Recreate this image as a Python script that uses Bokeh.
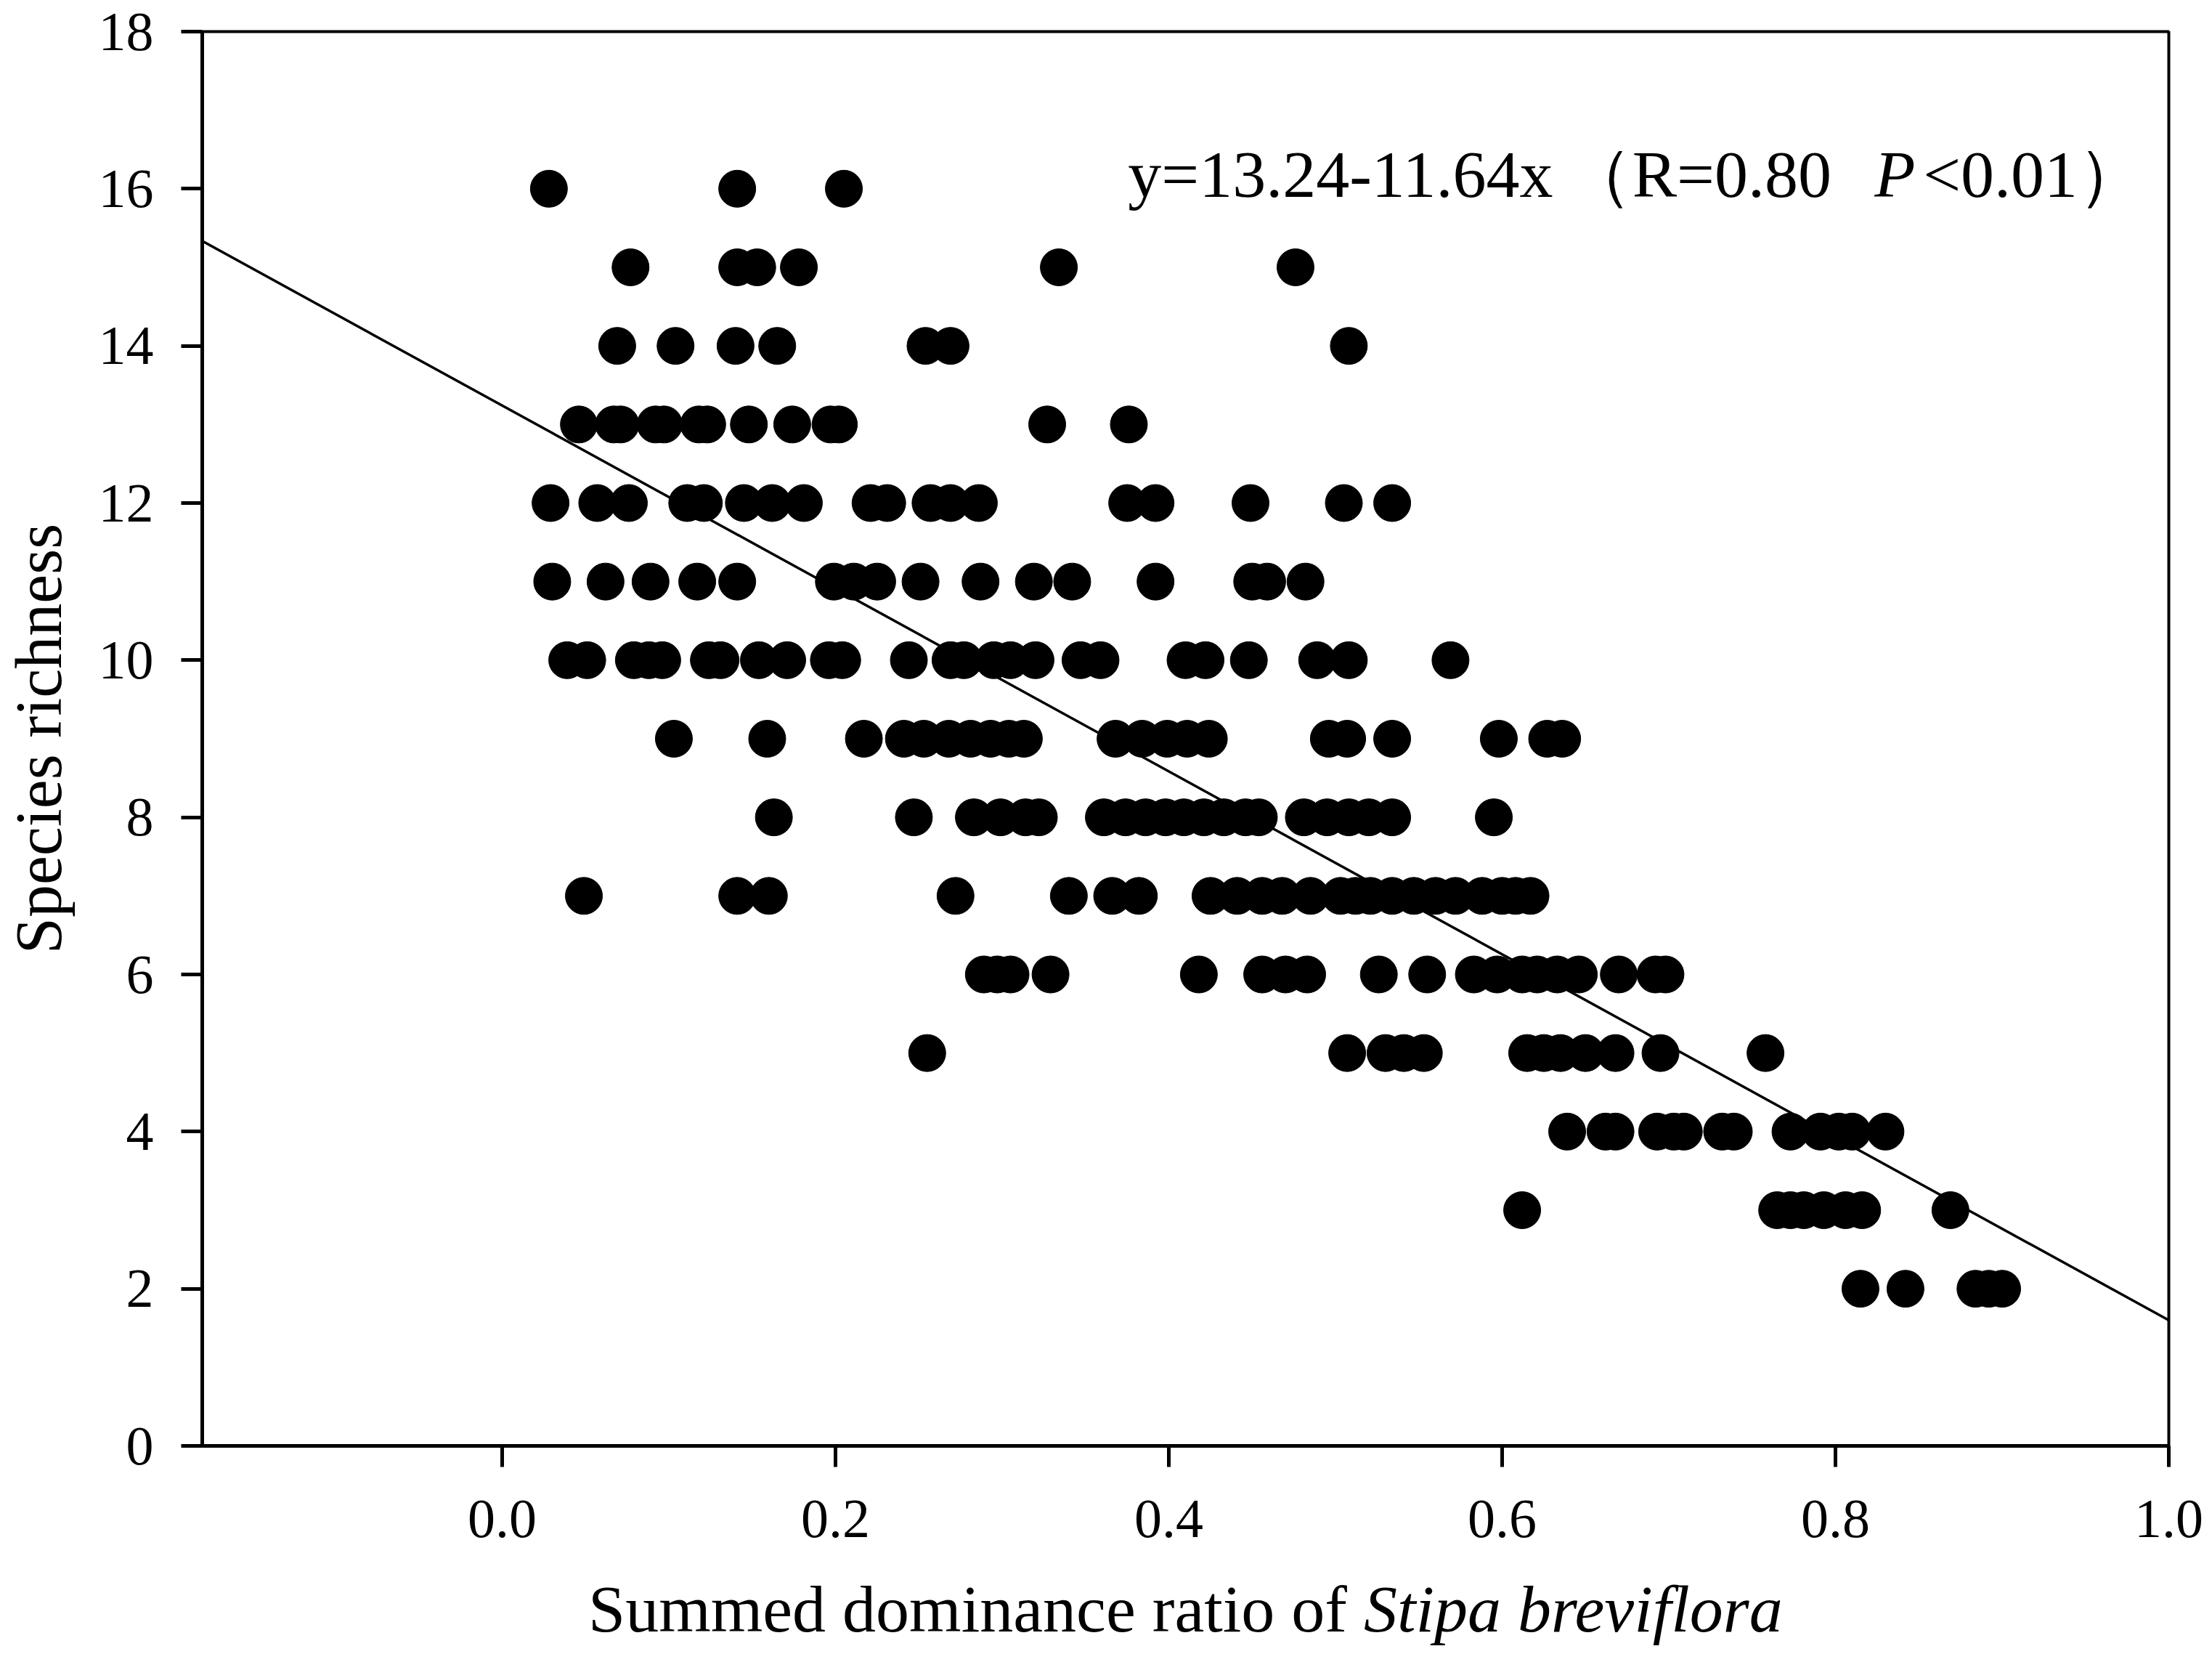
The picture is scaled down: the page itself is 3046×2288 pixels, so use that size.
from bokeh.plotting import figure
from bokeh.models import Range1d, FixedTicker, NumeralTickFormatter, Label, ColumnDataSource, Div
from bokeh.layouts import column
from bokeh.embed import file_html
from bokeh.resources import INLINE

# Summed dominance ratio of Stipa breviflora, grouped by species richness
rich_16 = [0.028, 0.141, 0.205]
rich_15 = [0.077, 0.141, 0.153, 0.178, 0.334, 0.476]
rich_14 = [0.069, 0.104, 0.140, 0.165, 0.254, 0.269, 0.508]
rich_13 = [0.046, 0.067, 0.071, 0.092, 0.097, 0.118, 0.123, 0.148, 0.174, 0.197, 0.202, 0.327, 0.376]
rich_12 = [0.029, 0.057, 0.076, 0.111, 0.121, 0.145, 0.162, 0.181, 0.221, 0.231, 0.257, 0.269,
           0.286, 0.375, 0.392, 0.449, 0.505, 0.534]
rich_11 = [0.030, 0.062, 0.089, 0.117, 0.141, 0.199, 0.211, 0.225, 0.251, 0.287, 0.319, 0.342,
           0.392, 0.450, 0.459, 0.482]
rich_10 = [0.039, 0.051, 0.079, 0.088, 0.096, 0.124, 0.131, 0.154, 0.171, 0.196, 0.204, 0.244,
           0.269, 0.277, 0.295, 0.305, 0.320, 0.347, 0.359, 0.410, 0.422, 0.448, 0.489, 0.508, 0.569]
rich_9 = [0.103, 0.159, 0.217, 0.241, 0.253, 0.268, 0.281, 0.293, 0.304, 0.313, 0.368, 0.384,
          0.399, 0.411, 0.424, 0.496, 0.507, 0.534, 0.598, 0.627, 0.636]
rich_8 = [0.163, 0.247, 0.283, 0.299, 0.314, 0.322, 0.361, 0.374, 0.386, 0.398, 0.409, 0.421,
          0.433, 0.446, 0.454, 0.481, 0.495, 0.508, 0.520, 0.534, 0.595]
rich_7 = [0.049, 0.141, 0.160, 0.272, 0.340, 0.366, 0.382, 0.425, 0.441, 0.456, 0.468, 0.485,
          0.503, 0.512, 0.521, 0.534, 0.547, 0.560, 0.572, 0.588, 0.600, 0.608, 0.617]
rich_6 = [0.289, 0.297, 0.305, 0.329, 0.418, 0.456, 0.470, 0.483, 0.526, 0.555, 0.583, 0.597,
          0.612, 0.621, 0.633, 0.646, 0.670, 0.692, 0.698]
rich_5 = [0.255, 0.507, 0.530, 0.541, 0.553, 0.615, 0.625, 0.635, 0.650, 0.668, 0.695, 0.758]
rich_4 = [0.639, 0.662, 0.668, 0.693, 0.703, 0.709, 0.732, 0.739, 0.773, 0.791, 0.802, 0.810, 0.830]
rich_3 = [0.612, 0.765, 0.773, 0.781, 0.793, 0.806, 0.816, 0.869]
rich_2 = [0.815, 0.842, 0.884, 0.892, 0.900]

rows = {16: rich_16, 15: rich_15, 14: rich_14, 13: rich_13, 12: rich_12, 11: rich_11,
        10: rich_10, 9: rich_9, 8: rich_8, 7: rich_7, 6: rich_6, 5: rich_5, 4: rich_4,
        3: rich_3, 2: rich_2}

# regression shown on the chart
intercept = 13.24
slope = -11.64

x_ticks = [0.0, 0.2, 0.4, 0.6, 0.8, 1.0]
y_ticks = [0, 2, 4, 6, 8, 10, 12, 14, 16, 18]
x_min, x_max = -0.18, 1.0

xs, ys = [], []
for r, vals in rows.items():
    for v in vals:
        xs.append(v)
        ys.append(r)
src = ColumnDataSource(data=dict(x=xs, y=ys))

FONT = "Liberation Serif"

p = figure(width=3040, height=2170, x_range=Range1d(x_min, x_max), y_range=Range1d(0, 18),
           output_backend="svg", toolbar_location=None,
           min_border_left=278, min_border_right=54, min_border_top=43, min_border_bottom=180)
p.background_fill_color = "white"
p.border_fill_color = "white"
p.outline_line_color = "black"
p.outline_line_width = 4
p.xgrid.grid_line_color = None
p.ygrid.grid_line_color = None

for ax in (p.xaxis[0], p.yaxis[0]):
    ax.axis_line_color = "black"
    ax.axis_line_width = 5
    ax.major_tick_line_color = "black"
    ax.major_tick_line_width = 5
    ax.major_tick_in = 0
    ax.major_tick_out = 29
    ax.minor_tick_line_color = None
    ax.major_label_text_font = FONT
    ax.major_label_text_font_size = "76px"
    ax.major_label_text_color = "black"

p.xaxis.ticker = FixedTicker(ticks=x_ticks)
p.xaxis.formatter = NumeralTickFormatter(format="0.0")
p.xaxis.major_label_standoff = 46
p.yaxis.ticker = FixedTicker(ticks=y_ticks)
p.yaxis.major_label_standoff = 38
p.yaxis.axis_label = "Species richness"
p.yaxis.axis_label_text_font = FONT
p.yaxis.axis_label_text_font_size = "90px"
p.yaxis.axis_label_text_font_style = "normal"
p.yaxis.axis_label_text_color = "black"
p.yaxis.axis_label_standoff = 30

# regression line
p.line([x_min, x_max], [intercept + slope * x_min, intercept + slope * x_max],
       line_color="black", line_width=3.5)

p.scatter("x", "y", source=src, marker="circle", size=51,
          fill_color="black", line_color="black")

# equation annotation
eq_parts = [
    (0.3755, "y=13.24-11.64x", "normal"),
    (0.6380, "（R=0.80", "normal"),
    (0.8234, "P", "italic"),
    (0.8526, "<0.01）", "normal"),
]
for xx, txt, style in eq_parts:
    p.add_layout(Label(x=xx, y=16.18, text=txt, text_font=FONT, text_font_size="92px",
                       text_font_style=style, text_color="black",
                       text_align="left", text_baseline="alphabetic"))

# x-axis title with italic species name (HTML text below the figure)
x_title_plain = "Summed dominance ratio of "
x_title_italic = "Stipa breviflora"
title_div = Div(
    text=('<div style="font-family:\'Liberation Serif\',serif;font-size:92px;line-height:90px;'
          'white-space:nowrap;padding-left:810px;color:black;">'
          + x_title_plain + '<i>' + x_title_italic + '</i></div>'),
    width=3040, height=110, margin=(0, 0, 0, 0))

layout = column(p, title_div, spacing=0)

open("out.html", "w").write(file_html(layout, INLINE))
